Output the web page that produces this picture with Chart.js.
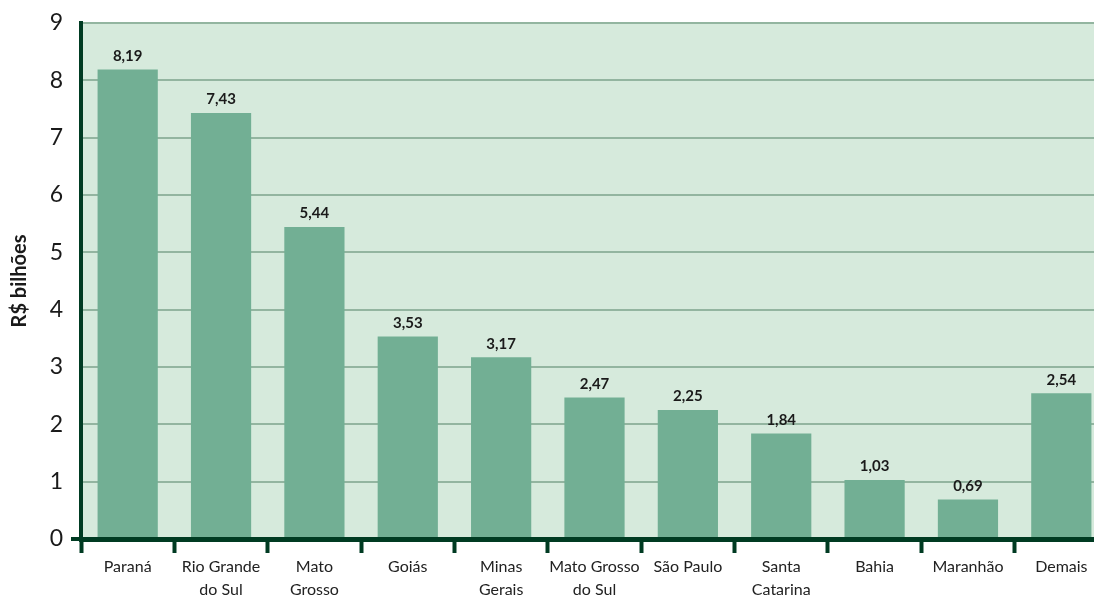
<!DOCTYPE html>
<html>
<head>
<meta charset="utf-8">
<script src="https://cdn.jsdelivr.net/npm/chart.js@4"></script>
<style>
html,body{margin:0;padding:0;background:#fff;overflow:hidden}
#wrap{width:1094px;height:596px;overflow:hidden}
</style>
</head>
<body>
<div id="wrap"><canvas id="c" width="1108" height="596"></canvas></div>
<script>
let estados=[["Paraná"],["Rio Grande","do Sul"],["Mato","Grosso"],["Goiás"],["Minas","Gerais"],["Mato Grosso","do Sul"],["São Paulo"],["Santa","Catarina"],["Bahia"],["Maranhão"],["Demais"]]
let valores=[8.19,7.43,5.44,3.53,3.17,2.47,2.25,1.84,1.03,0.69,2.54]
let yTicks=[0,1,2,3,4,5,6,7,8,9]

let fundo={
id:"fundo",
beforeDraw(chart){
let a=chart.chartArea,ctx=chart.ctx
ctx.save()
ctx.fillStyle="#d6eadc"
ctx.fillRect(a.left,a.top,a.right-a.left,a.bottom-a.top)
ctx.restore()
}
}

let rotulos={
id:"rotulos",
afterDatasetsDraw(chart){
let ctx=chart.ctx
let meta=chart.getDatasetMeta(0)
ctx.save()
ctx.font="bold 15px Lato"
ctx.fillStyle="#1a1a1a"
ctx.textAlign="center"
ctx.textBaseline="bottom"
meta.data.forEach((b,i)=>{
ctx.fillText(valores[i].toFixed(2).replace(".",","),b.x,b.y-6)
})
ctx.restore()
}
}

new Chart(document.getElementById("c"),{
type:"bar",
data:{
labels:estados,
datasets:[{
data:valores,
backgroundColor:"#72af94",
categoryPercentage:1,
barPercentage:0.645
}]
},
options:{
responsive:false,
animation:false,
layout:{padding:{top:23,right:0,left:0,bottom:0}},
plugins:{legend:{display:false},tooltip:{enabled:false}},
scales:{
x:{
afterFit:s=>{s.height=57},
border:{color:"#003b22",width:5,z:1},
grid:{drawOnChartArea:false,drawTicks:true,tickLength:14,tickColor:"#003b22",tickWidth:4,offset:true},
ticks:{color:"#222",font:{family:"Lato",size:16,lineHeight:1.4},padding:3,maxRotation:0,autoSkip:false}
},
y:{
min:0,max:9,
afterFit:s=>{s.width=81},
afterBuildTicks:s=>{s.ticks=yTicks.map(v=>({value:v}))},
border:{color:"#003b22",width:4,z:1},
grid:{color:"#93b5a0",lineWidth:2,tickLength:10,tickWidth:4,tickColor:c=>c.tick&&c.tick.value===0?"#003b22":"rgba(0,0,0,0)"},
ticks:{color:"#1a1a1a",font:{family:"Lato",size:23},padding:8},
title:{display:true,text:"R$ bilhões",color:"#1a1a1a",font:{family:"Lato",size:20,weight:"bold"},padding:{top:8,bottom:0}}
}
}
},
plugins:[fundo,rotulos]
})
</script>
</body>
</html>
